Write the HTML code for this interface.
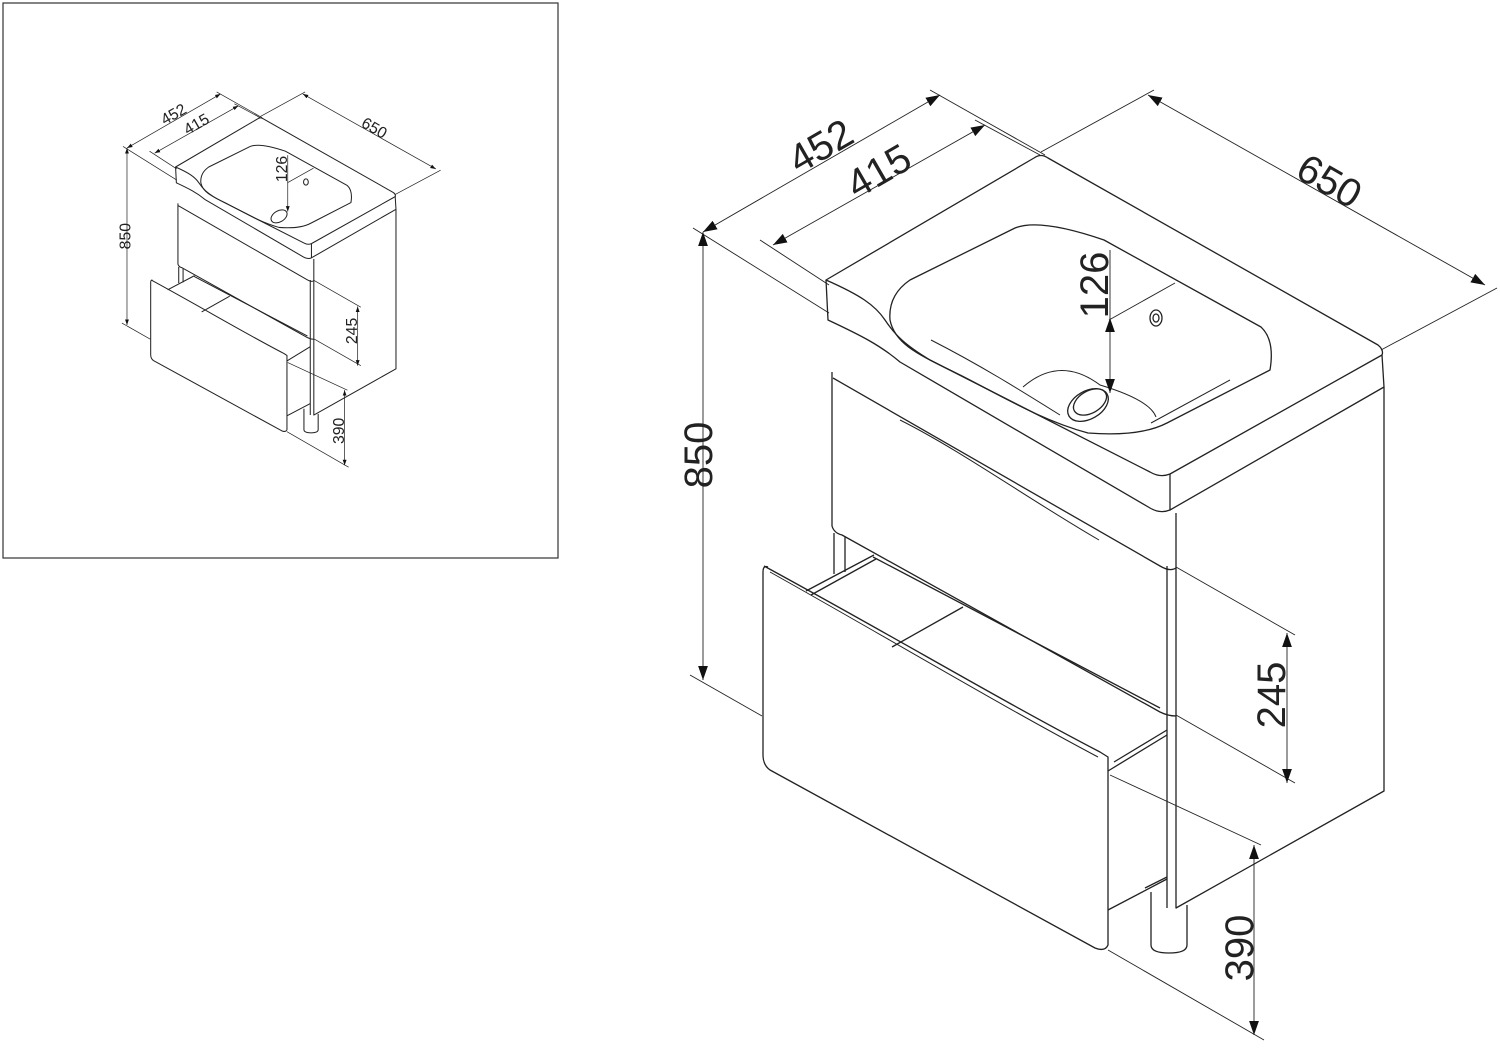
<!DOCTYPE html>
<html><head><meta charset="utf-8"><style>
html,body{margin:0;padding:0;background:#fff;}
svg{display:block;}
text{font-family:"Liberation Sans",sans-serif;font-size:40px;fill:#222;}
</style></head><body>
<svg width="1500" height="1050" viewBox="0 0 1500 1050" xmlns="http://www.w3.org/2000/svg">
<defs>
<marker id="ar" viewBox="0 0 10 10" refX="10" refY="5" markerWidth="14" markerHeight="14" markerUnits="userSpaceOnUse" orient="auto-start-reverse"><path d="M0,1.5 L10,5 L0,8.5 Z" fill="#111"/></marker>
</defs>
<rect x="3" y="3" width="555" height="555" fill="none" stroke="#333" stroke-width="1.2"/>

<g fill="none" stroke="#222" stroke-width="1.3" stroke-linejoin="round">
<path d="M826,280 L1034,158 Q1041,153 1048,158 L1378,345 Q1384,350 1382,355 L1170,474 Q1160,478 1150,472 L930,360 C905,345 895,335 885,320 C875,305 860,295 826,280 Z"/>
<path d="M826,280 L828,320 C860,335 880,345 900,362 L1150,508 Q1160,514 1170,510 L1384,387 L1382,355"/>
<path d="M1170,474 L1170,510"/>
<path d="M910,280 L1015,228 Q1040,218 1104,240 L1261,327 Q1275,340 1270,370 L1167,423 Q1140,437 1088,433 C1040,420 1000,395 960,375 C920,355 895,345 890,320 Q888,295 910,280 Z"/>
<path d="M931,340 C980,365 1020,390 1060,415" stroke-width="1"/>
<path d="M1023,387 Q1060,355 1100,385 Q1150,400 1156,417" stroke-width="1"/>
<path d="M1230,380 L1151,423" stroke-width="1"/>
<ellipse cx="1088" cy="405" rx="22" ry="14" transform="rotate(-30 1088 405)"/>
<ellipse cx="1090" cy="402" rx="18" ry="11" transform="rotate(-30 1090 402)"/>
<ellipse cx="1156" cy="318" rx="6" ry="8"/>
<ellipse cx="1156" cy="318" rx="3" ry="4"/>
<path d="M832,372 L832,526 Q834,533 842,535 L1160,712 Q1168,716 1176,716"/>
<path d="M833,378 L1160,566 Q1170,572 1176,568"/>
<path d="M900,420 C960,450 1030,500 1099,540" stroke-width="1"/>
<path d="M1176,513 L1176,908 L1384,791 L1384,387"/>
<path d="M1167,566 L1167,908"/>
<path d="M834,533 L834,574 M845,537 L845,572"/>
<path d="M806,591 L874,555 M811,595 L876,559"/>
<path d="M873,557 L1160,708"/>
<path d="M892,647 L963,607"/>
<path d="M764,566 C900,640 1000,700 1100,752 L1108,757 L1108,945 Q1105,952 1095,948 L770,770 Q763,765 763,755 L763,572 Q763,565 768,567"/>
<path d="M770,572 C900,645 1000,705 1098,757" stroke-width="1"/>
<path d="M1108,771 L1167,735 M1114,762 L1167,730 M1108,910 L1167,879 M1145,888 L1167,877"/>
<path d="M1151,892 L1151,945 Q1151,953 1169,953 Q1187,953 1187,945 L1187,905"/>
</g>
<g fill="none" stroke="#222" stroke-width="0.9">
<path d="M693,228 L829,313 M690,675 L762,716"/>
<path d="M703,232 L703,680" marker-start="url(#ar)" marker-end="url(#ar)"/>
<path d="M930,90 L1045,155 M760,240 L829,285 M975,120 L1040,155"/>
<path d="M703,232 L940,95" marker-start="url(#ar)" marker-end="url(#ar)"/>
<path d="M773,245 L985,125" marker-start="url(#ar)" marker-end="url(#ar)"/>
<path d="M1154,90 L1041,152 M1497,288 L1381,350"/>
<path d="M1148,95 L1485,285" marker-start="url(#ar)" marker-end="url(#ar)"/>
<path d="M1109,320 L1175,283"/>
<path d="M1110,318 L1110,393" marker-start="url(#ar)" marker-end="url(#ar)"/>
<path d="M1110,250 L1110,318"/>
<path d="M1176,567 L1295,635 M1176,715 L1295,783"/>
<path d="M1287,633 L1287,783" marker-start="url(#ar)" marker-end="url(#ar)"/>
<path d="M1108,950 L1264,1040 M1110,775 L1261,845"/>
<path d="M1254,845 L1254,1035" marker-start="url(#ar)" marker-end="url(#ar)"/>
</g>
<text x="820" y="160" text-anchor="middle" transform="rotate(-30 820 145)">452</text>
<text x="878" y="185" text-anchor="middle" transform="rotate(-30 878 170)">415</text>
<text x="1330" y="195" text-anchor="middle" transform="rotate(30 1330 180)">650</text>
<text x="1093" y="300" text-anchor="middle" transform="rotate(-90 1093 285)">126</text>
<text x="697" y="470" text-anchor="middle" transform="rotate(-90 697 455)">850</text>
<text x="1270" y="710" text-anchor="middle" transform="rotate(-90 1270 695)">245</text>
<text x="1238" y="963" text-anchor="middle" transform="rotate(-90 1238 948)">390</text>

<g transform="translate(-150.7,56.4) scale(0.395)">
<g fill="none" stroke="#222" stroke-width="2.6" stroke-linejoin="round">
<path d="M826,280 L1034,158 Q1041,153 1048,158 L1378,345 Q1384,350 1382,355 L1170,474 Q1160,478 1150,472 L930,360 C905,345 895,335 885,320 C875,305 860,295 826,280 Z"/>
<path d="M826,280 L828,320 C860,335 880,345 900,362 L1150,508 Q1160,514 1170,510 L1384,387 L1382,355"/>
<path d="M1170,474 L1170,510"/>
<path d="M910,280 L1015,228 Q1040,218 1104,240 L1261,327 Q1275,340 1270,370 L1167,423 Q1140,437 1088,433 C1040,420 1000,395 960,375 C920,355 895,345 890,320 Q888,295 910,280 Z"/>
<ellipse cx="1088" cy="405" rx="22" ry="14" transform="rotate(-30 1088 405)"/>
<ellipse cx="1156" cy="318" rx="6" ry="8"/>
<path d="M832,372 L832,526 Q834,533 842,535 L1160,712 Q1168,716 1176,716"/>
<path d="M833,378 L1160,566 Q1170,572 1176,568"/>
<path d="M1176,513 L1176,908 L1384,791 L1384,387"/>
<path d="M1167,566 L1167,908"/>
<path d="M834,533 L834,574 M845,537 L845,572"/>
<path d="M806,591 L874,555"/>
<path d="M873,557 L1160,708"/>
<path d="M892,647 L963,607"/>
<path d="M764,566 C900,640 1000,700 1100,752 L1108,757 L1108,945 Q1105,952 1095,948 L770,770 Q763,765 763,755 L763,572 Q763,565 768,567"/>
<path d="M1108,771 L1167,735 M1108,910 L1167,879"/>
<path d="M1151,892 L1151,945 Q1151,953 1169,953 Q1187,953 1187,945 L1187,905"/>
</g>
<g fill="none" stroke="#222" stroke-width="1.8">
<path d="M693,228 L829,313 M690,675 L762,716"/>
<path d="M703,232 L703,680" marker-start="url(#ar)" marker-end="url(#ar)"/>
<path d="M930,90 L1045,155 M760,240 L829,285 M975,120 L1040,155"/>
<path d="M703,232 L940,95" marker-start="url(#ar)" marker-end="url(#ar)"/>
<path d="M773,245 L985,125" marker-start="url(#ar)" marker-end="url(#ar)"/>
<path d="M1154,90 L1041,152 M1497,288 L1381,350"/>
<path d="M1148,95 L1485,285" marker-start="url(#ar)" marker-end="url(#ar)"/>
<path d="M1109,320 L1175,283"/>
<path d="M1110,250 L1110,393" marker-end="url(#ar)"/>
<path d="M1176,567 L1295,635 M1176,715 L1295,783"/>
<path d="M1287,633 L1287,783" marker-start="url(#ar)" marker-end="url(#ar)"/>
<path d="M1108,950 L1264,1040 M1110,775 L1261,845"/>
<path d="M1254,845 L1254,1035" marker-start="url(#ar)" marker-end="url(#ar)"/>
</g>
<text x="820" y="160" text-anchor="middle" transform="rotate(-30 820 145)">452</text>
<text x="878" y="185" text-anchor="middle" transform="rotate(-30 878 170)">415</text>
<text x="1330" y="195" text-anchor="middle" transform="rotate(30 1330 180)">650</text>
<text x="1093" y="300" text-anchor="middle" transform="rotate(-90 1093 285)">126</text>
<text x="697" y="470" text-anchor="middle" transform="rotate(-90 697 455)">850</text>
<text x="1270" y="710" text-anchor="middle" transform="rotate(-90 1270 695)">245</text>
<text x="1238" y="963" text-anchor="middle" transform="rotate(-90 1238 948)">390</text>
</g>
</svg>
</body></html>
